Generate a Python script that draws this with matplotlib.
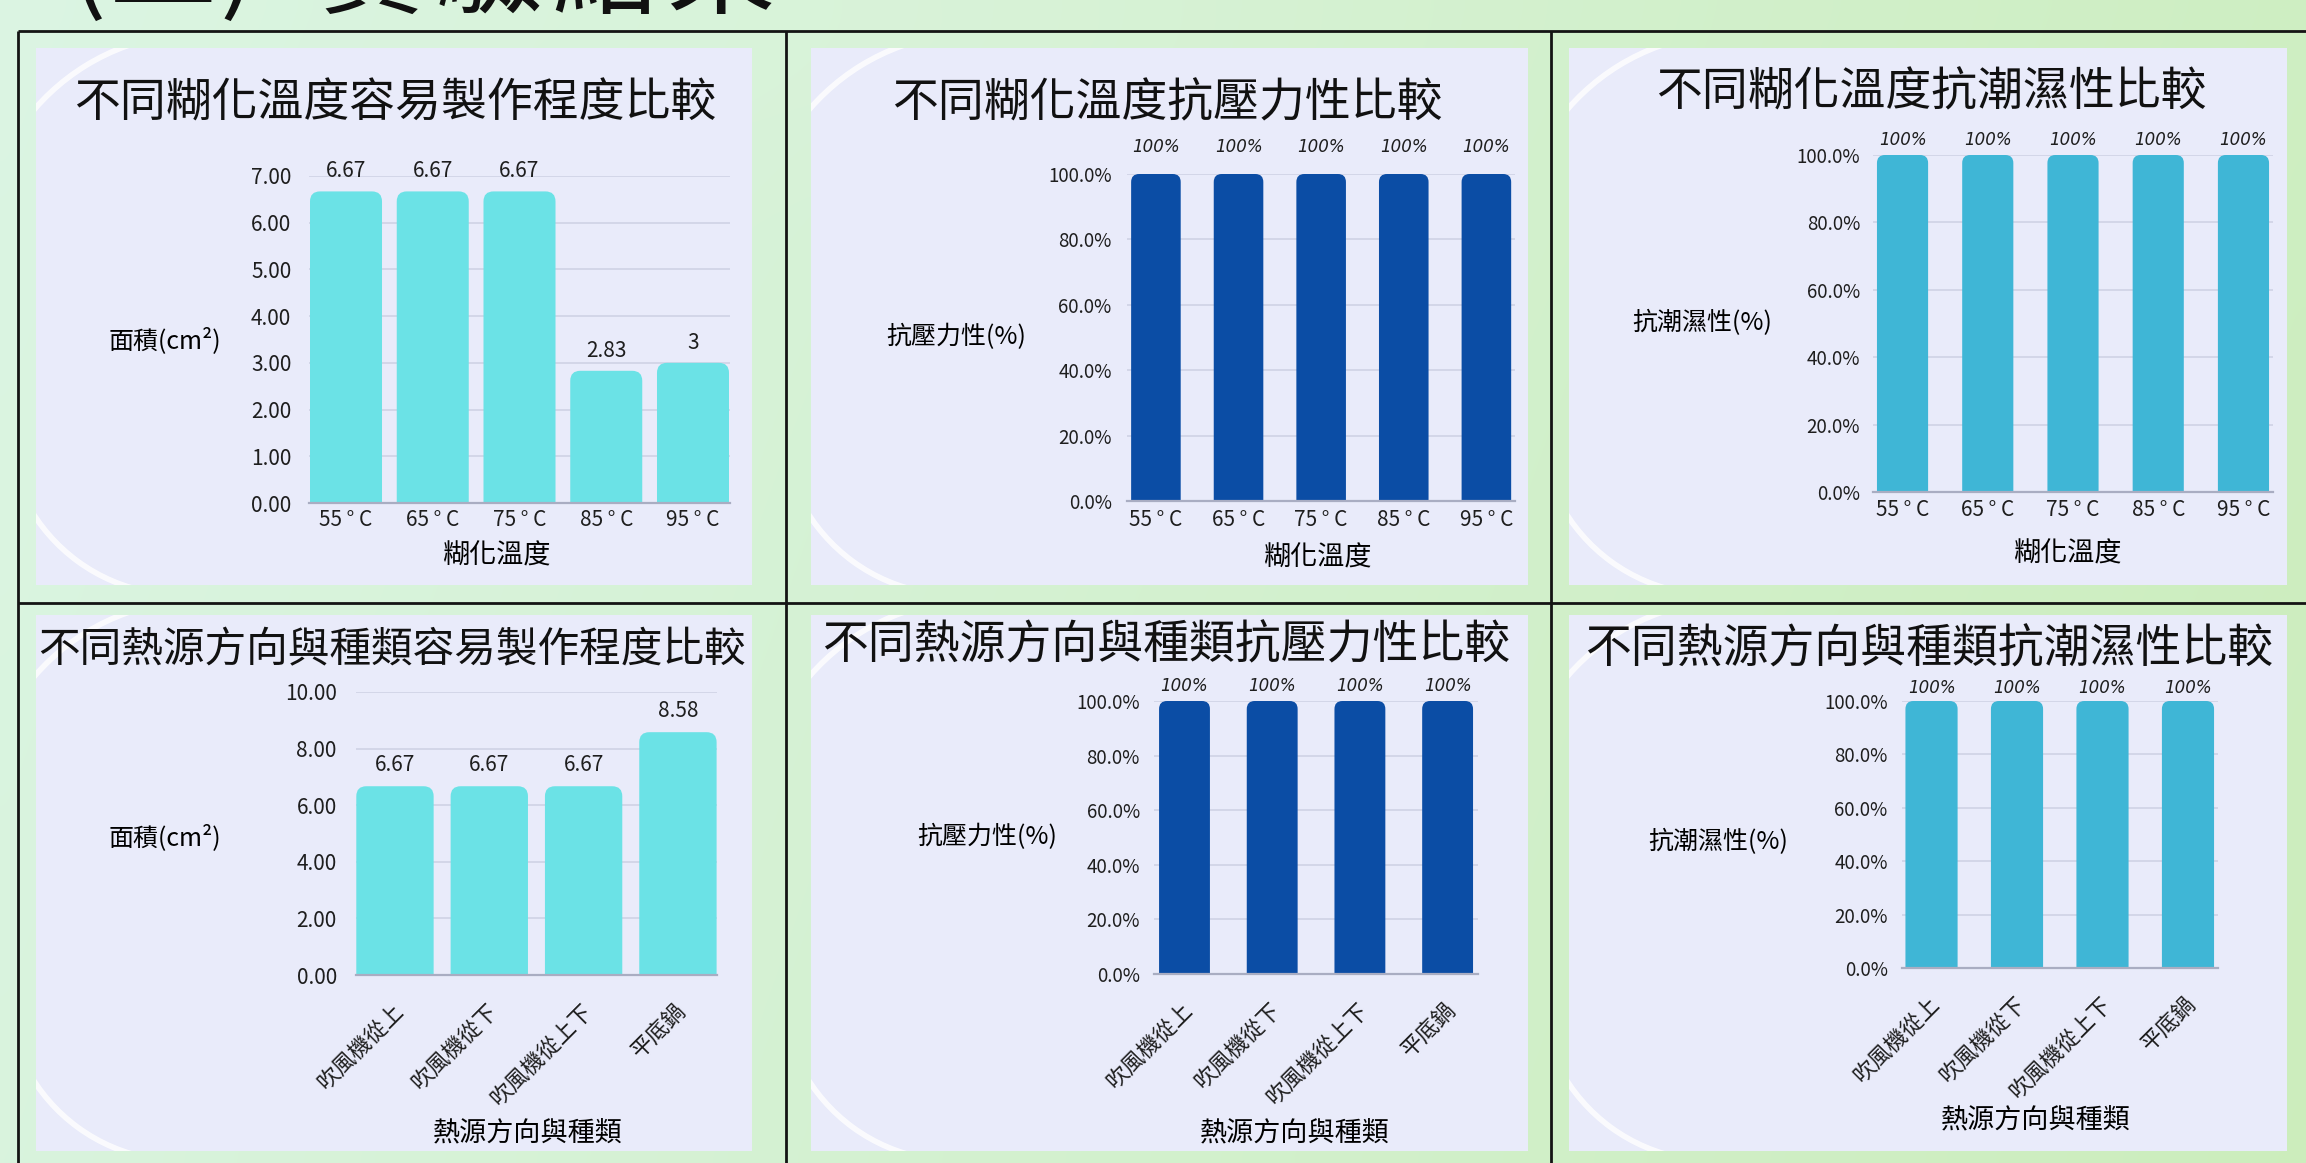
import numpy as np
import matplotlib
matplotlib.use("Agg")
import matplotlib.pyplot as plt
import matplotlib.transforms as mtransforms
from matplotlib.patches import Rectangle, FancyBboxPatch, Arc

plt.rcParams['font.family'] = ['Noto Sans CJK TC', 'DejaVu Sans']
plt.rcParams['text.color'] = '#1e1e1e'
plt.rcParams['xtick.color'] = '#1e1e1e'
plt.rcParams['ytick.color'] = '#1e1e1e'

# ---------------- data ----------------
temp_labels = ['55 ° C', '65 ° C', '75 ° C', '85 ° C', '95 ° C']
heat_labels = ['吹風機從上', '吹風機從下', '吹風機從上下', '平底鍋']

temp_area = [6.67, 6.67, 6.67, 2.83, 3]           # cm²
temp_pressure = [100, 100, 100, 100, 100]         # %
temp_moisture = [100, 100, 100, 100, 100]         # %
heat_area = [6.67, 6.67, 6.67, 8.58]              # cm²
heat_pressure = [100, 100, 100, 100]              # %
heat_moisture = [100, 100, 100, 100]              # %

titles = ['不同糊化溫度容易製作程度比較', '不同糊化溫度抗壓力性比較', '不同糊化溫度抗潮濕性比較',
          '不同熱源方向與種類容易製作程度比較', '不同熱源方向與種類抗壓力性比較', '不同熱源方向與種類抗潮濕性比較']
area_label = '面積(cm²)'
pressure_label = '抗壓力性(%)'
moisture_label = '抗潮濕性(%)'
temp_axis = '糊化溫度'
heat_axis = '熱源方向與種類'
heading_marks = ['(', '二', ')']
heading_words = ['實', '驗', '結', '果']

TURQUOISE = '#6BE2E6'
NAVY = '#0B4DA5'
SKY = '#3FB6D6'
PANEL_BG = '#E9EBFA'
GRID = '#D3D6E8'

W, H = 2306, 1163
fig = plt.figure(figsize=(W / 100, H / 100), dpi=100)

# ---------------- slide background (pixel coordinates) ----------------
bg = fig.add_axes([0, 0, 1, 1], zorder=0)
bg.set_xlim(0, W)
bg.set_ylim(H, 0)
bg.axis('off')

ny, nx = 80, 160
xx = np.linspace(0, 1, nx)[None, :]
yy = np.linspace(0, 1, ny)[:, None]
c_left = np.array([0.86, 0.96, 0.89])
c_right = np.array([0.80, 0.93, 0.74])
t = np.clip(0.85 * xx + 0.15 * yy, 0, 1)
img = c_left[None, None, :] * (1 - t[..., None]) + c_right[None, None, :] * t[..., None]
glow = np.exp(-((xx - 0.42) ** 2 / 0.04 + (yy - 0.02) ** 2 / 0.02))
img = img + 0.05 * glow[..., None] * (1 - img)
bg.imshow(np.clip(img, 0, 1), extent=(0, W, H, 0), aspect='auto',
          interpolation='bicubic', zorder=0)

panel_boxes = [(36, 48, 752, 585), (811, 48, 1528, 585), (1569, 48, 2287, 585),
               (36, 615, 752, 1151), (811, 615, 1528, 1151), (1569, 615, 2287, 1151)]
for (l, tp, r, b) in panel_boxes:
    rect = Rectangle((l, tp), r - l, b - tp, fc=PANEL_BG, ec='none', zorder=1)
    bg.add_patch(rect)
    a1 = Arc((l + 165, tp + 205), 440, 440, theta1=215, theta2=262,
             color='white', lw=4, alpha=0.8, zorder=1.5)
    a2 = Arc((l + 145, b - 165), 350, 350, theta1=100, theta2=152,
             color='white', lw=4, alpha=0.8, zorder=1.5)
    for a in (a1, a2):
        bg.add_patch(a)
        a.set_clip_path(rect)

# table frame
frame_kw = dict(color='#141414', lw=2.0, solid_capstyle='butt', zorder=3)
bg.plot([18, W], [31, 31], **frame_kw)
bg.plot([18, W], [603, 603], **frame_kw)
for xv in (18, 786, 1551):
    bg.plot([xv, xv], [31, H], **frame_kw)

# slide heading (only its lower edge lies on the page)
for ch, cx, base in zip(heading_marks, [88, 163, 238], [0, 4, 0]):
    bg.text(cx, base, ch, fontsize=78, va='baseline', ha='center',
            color='#111111', zorder=3)
for ch, cx in zip(heading_words, [372, 490, 605, 720]):
    bg.text(cx, 5, ch, fontsize=78, va='baseline', ha='center',
            color='#111111', zorder=3)


def round_tops(ax, bars, radius_px, ax_w_px, ax_h_px):
    x0, x1 = ax.get_xlim()
    y0, y1 = ax.get_ylim()
    ppx = ax_w_px / (x1 - x0)
    ppy = ax_h_px / (y1 - y0)
    rx = radius_px / ppx
    aspect = ppx / ppy
    ry = rx * aspect
    for bar in bars:
        bx, bw, bh = bar.get_x(), bar.get_width(), bar.get_height()
        p = FancyBboxPatch((bx, -2 * ry), bw, bh + 2 * ry,
                           boxstyle=f"round,pad=0,rounding_size={rx}",
                           mutation_aspect=aspect, fc=bar.get_facecolor(),
                           ec='none', zorder=2)
        ax.add_patch(p)
        bar.remove()


rotated_axes = []


def draw_panel(rect, cats, vals, color, width, xpad, ymax, ystep, ytick_fmt,
               val_fmt, val_gap, val_font, title, title_pos, title_size,
               ylabel, ylabel_pos, xlabel, xlabel_pos, ytick_pad, ytick_size,
               xtick_pad, xtick_size, rotated, radius):
    l, tp, r, b = rect
    ax = fig.add_axes([l / W, 1 - b / H, (r - l) / W, (b - tp) / H], zorder=2)
    ax.patch.set_alpha(0)
    n = len(cats)
    x = np.arange(n)
    ax.set_xlim(-xpad, n - 1 + xpad)
    ax.set_ylim(0, ymax)
    yt = np.arange(0, ymax + ystep / 2, ystep)
    ax.set_yticks(yt, [ytick_fmt(v) for v in yt], fontsize=ytick_size)
    if rotated:
        ax.set_xticks(x, cats, rotation=45, ha='right', va='center',
                      rotation_mode='anchor', fontsize=xtick_size)
        rotated_axes.append(ax)
    else:
        ax.set_xticks(x, cats, fontsize=xtick_size)
    ax.tick_params(axis='both', length=0)
    ax.tick_params(axis='y', pad=ytick_pad)
    ax.tick_params(axis='x', pad=xtick_pad)
    ax.set_axisbelow(True)
    ax.yaxis.grid(True, color=GRID, lw=1.4)
    for s in ('top', 'right', 'left'):
        ax.spines[s].set_visible(False)
    ax.spines['bottom'].set_color('#A9ADC2')
    ax.spines['bottom'].set_linewidth(1.6)

    bars = ax.bar(x, vals, width=width, color=color)
    round_tops(ax, bars, radius, r - l, b - tp)
    for xi, v in zip(x, vals):
        ax.annotate(val_fmt(v), (xi, v), xytext=(0, val_gap),
                    textcoords='offset pixels', ha='center', va='center',
                    **val_font)

    bg.text(title_pos[0], title_pos[1], title, fontsize=title_size,
            ha='center', va='center', color='#111111', zorder=3)
    ax.set_ylabel(ylabel, rotation=0, fontsize=18, ha='center', va='center')
    ax.yaxis.set_label_coords(ylabel_pos[0], ylabel_pos[1], transform=bg.transData)
    ax.set_xlabel(xlabel, fontsize=19.5, ha='center', va='center')
    ax.xaxis.set_label_coords(xlabel_pos[0], xlabel_pos[1], transform=bg.transData)
    return ax


num_fmt = lambda v: f"{v:.2f}"
pct_fmt = lambda v: f"{v:.1f}%"
num_val = lambda v: f"{v:g}"
pct_val = lambda v: f"{v:g}%"
num_font = dict(fontsize=15)
pct_font = dict(fontsize=12, family='DejaVu Sans', style='italic')

# top row: gelatinisation temperature
draw_panel((308.7, 176, 730.3, 503), temp_labels, temp_area, TURQUOISE, 0.83, 0.43,
           7, 1, num_fmt, num_val, 20, num_font, titles[0], (395, 103), 33,
           area_label, (165, 341), temp_axis, (497, 556), 12.5, 15, 4, 15, False, 10)
draw_panel((1127, 174, 1515.3, 501), temp_labels, temp_pressure, NAVY, 0.6, 0.35,
           100, 20, pct_fmt, pct_val, 27, pct_font, titles[1], (1167, 103), 33,
           pressure_label, (956, 337), temp_axis, (1318, 558), 11, 13.5, 6, 15, False, 8)
draw_panel((1872.7, 155, 2273.3, 492), temp_labels, temp_moisture, SKY, 0.6, 0.35,
           100, 20, pct_fmt, pct_val, 15, pct_font, titles[2], (1931, 92), 33,
           moisture_label, (1702, 323), temp_axis, (2068, 554), 9, 13.5, 5, 15, False, 8)

# bottom row: heat source direction and type
draw_panel((356.3, 692, 716.6, 975), heat_labels, heat_area, TURQUOISE, 0.82, 0.41,
           10, 2, num_fmt, num_val, 21, num_font, titles[3], (392, 651), 30,
           area_label, (165, 838), heat_axis, (528, 1134), 14, 15, 20, 16, True, 10)
draw_panel((1153.8, 701, 1478.3, 974), heat_labels, heat_pressure, NAVY, 0.58, 0.35,
           100, 20, pct_fmt, pct_val, 15, pct_font, titles[4], (1166, 645), 33,
           pressure_label, (987, 837), heat_axis, (1295, 1134), 10, 13.5, 20, 16, True, 8)
draw_panel((1901.6, 701, 2217.9, 968), heat_labels, heat_moisture, SKY, 0.61, 0.35,
           100, 20, pct_fmt, pct_val, 13, pct_font, titles[5], (1929, 649), 33,
           moisture_label, (1718, 842), heat_axis, (2036, 1121), 10, 13.5, 20, 16, True, 8)

# slanted category names: upper-right end sits just right of the bar centre,
# a little below the baseline
fig.canvas.draw()
renderer = fig.canvas.get_renderer()
for ax in rotated_axes:
    axis_y = ax.transAxes.transform((0, 0))[1]
    for loc, lab in zip(ax.get_xticks(), ax.get_xticklabels()):
        cx = ax.transData.transform((loc, 0))[0]
        bb = lab.get_window_extent(renderer)
        dx = (cx + 13) - bb.x1
        dy = (axis_y - 24) - bb.y1
        lab.set_transform(lab.get_transform() +
                          mtransforms.ScaledTranslation(dx / 100, dy / 100,
                                                        fig.dpi_scale_trans))

fig.savefig('out.png', dpi=100)
